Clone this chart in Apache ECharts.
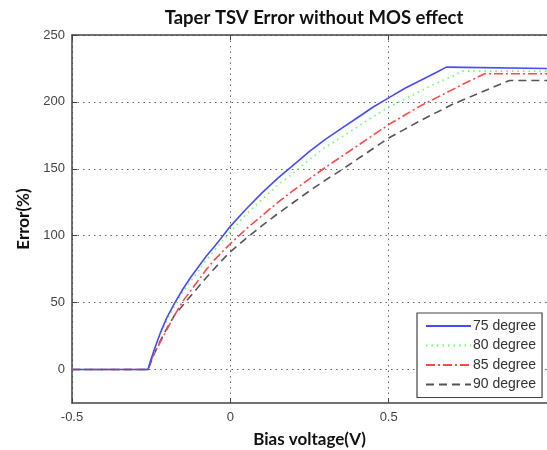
<!DOCTYPE html>
<html>
<head>
<meta charset="utf-8">
<style>
  html, body { margin: 0; padding: 0; background: #fff; }
  #chart { width: 547px; height: 450px; }
</style>
<script src="https://cdn.jsdelivr.net/npm/echarts@6.0.0/dist/echarts.min.js"></script>
</head>
<body>
<div id="chart"></div>
<script>
// Taper TSV error versus bias voltage, one curve per taper angle
var seriesNames = ['75 degree', '80 degree', '85 degree', '90 degree'];

// bias voltage samples shared by the rising part of every curve
var xRise = [-0.5, -0.26, -0.25, -0.24, -0.22, -0.2, -0.175, -0.15, -0.125, -0.1, -0.075, -0.05, -0.025,
             0, 0.05, 0.1, 0.15, 0.2, 0.25, 0.3, 0.35, 0.4, 0.45, 0.5, 0.55, 0.6, 0.65];

var x75 = xRise.concat([0.682, 1.0]);
var y75 = [0, 0, 8, 15, 28, 39, 50, 60, 69, 77, 85, 92, 99.5,
           107, 120, 132, 143, 153, 163, 172, 180, 188, 196, 203, 210, 216, 222,
           226, 225];

var x80 = xRise.concat([0.7, 0.733, 1.0]);
var y80 = [0, 0, 8, 14, 27, 37, 48, 58, 66, 74, 82, 89, 96,
           103, 116, 127, 138, 147, 157, 166, 173.5, 181, 189, 196, 202, 208, 214,
           219, 223, 223];

var x85 = xRise.concat([0.7, 0.75, 0.803, 1.0]);
var y85 = [0, 0, 7, 12, 21, 30, 41, 51, 59, 67, 75, 82, 88,
           94, 105, 115, 125, 134, 142.5, 151, 159, 167, 175, 183, 190, 197, 203,
           209, 215, 221, 221];

var x90 = xRise.concat([0.7, 0.75, 0.8, 0.85, 0.882, 1.0]);
var y90 = [0, 0, 6, 12, 22, 31, 41, 48, 55, 62, 69, 75.5, 82,
           88, 98, 107.5, 116.5, 125, 133.5, 141.5, 149, 157, 165, 173, 179.5, 186, 192,
           198, 203, 208, 213, 216, 216];

var yTicks = [0, 50, 100, 150, 200, 250];

function pairs(xs, ys) {
  return xs.map(function (x, i) { return [x, ys[i]]; });
}

var styles = [
  { color: '#4a4aff', type: 'solid' },
  { color: '#66ff66', type: [1.5, 4] },
  { color: '#ff4a4a', type: [9, 3, 2, 3] },
  { color: '#555555', type: [8, 5] }
];
var dataSets = [pairs(x75, y75), pairs(x80, y80), pairs(x85, y85), pairs(x90, y90)];

var chart = echarts.init(document.getElementById('chart'));

var tickFont = { fontFamily: 'Liberation Sans', fontSize: 13, color: '#444' };
var nameFont = { fontFamily: 'Lato', fontWeight: 'bold', fontSize: 17, color: '#111' };

chart.setOption({
  animation: false,
  backgroundColor: '#fff',
  title: {
    text: 'Taper TSV Error without MOS effect',
    left: 309,
    top: 4,
    textAlign: 'center',
    textStyle: { fontFamily: 'Lato', fontWeight: 'bold', fontSize: 18.5, color: '#111' }
  },
  legend: {
    orient: 'vertical',
    left: 417,
    top: 313,
    padding: [6, 6, 6, 8],
    itemWidth: 45,
    itemHeight: 14,
    itemGap: 5.5,
    backgroundColor: '#fff',
    borderColor: '#444',
    borderWidth: 1.2,
    borderRadius: 0,
    itemStyle: { opacity: 0 },
    textStyle: { fontFamily: 'Liberation Sans', fontSize: 14, color: '#333', padding: [0, 0, 0, -3] },
    data: seriesNames
  },
  grid: { left: 72, top: 35, right: 0, bottom: 47, containLabel: false, outerBoundsMode: 'none' },
  xAxis: [{
    type: 'value',
    min: -0.5,
    max: 1,
    interval: 0.5,
    name: 'Bias voltage(V)',
    nameLocation: 'middle',
    nameGap: 28,
    nameTextStyle: nameFont,
    axisLine: { show: true, onZero: false, lineStyle: { color: '#444', width: 1.5 } },
    axisTick: { show: true, inside: true, length: 5, lineStyle: { color: '#444' } },
    axisLabel: {
      margin: 8,
      showMaxLabel: false,
      fontFamily: tickFont.fontFamily, fontSize: tickFont.fontSize, color: tickFont.color,
      formatter: function (v) { return String(v); }
    },
    splitLine: { show: true, lineStyle: { color: '#666', type: [1.5, 4], width: 1 } }
  }, {
    type: 'value',
    position: 'top',
    min: -0.5,
    max: 1,
    interval: 0.5,
    axisLine: { show: true, onZero: false, lineStyle: { color: '#444', width: 1.5 } },
    axisTick: { show: true, inside: true, length: 5, lineStyle: { color: '#444' } },
    axisLabel: { show: false },
    splitLine: { show: false }
  }],
  yAxis: {
    type: 'value',
    min: -25,
    max: 250,
    name: 'Error(%)',
    nameLocation: 'middle',
    nameGap: 40,
    nameTextStyle: nameFont,
    axisLine: { show: true, onZero: false, lineStyle: { color: '#444', width: 1.5 } },
    axisTick: { show: true, inside: true, length: 5, customValues: yTicks, lineStyle: { color: '#444' } },
    axisLabel: {
      margin: 7,
      customValues: yTicks,
      fontFamily: tickFont.fontFamily, fontSize: tickFont.fontSize, color: tickFont.color
    },
    splitLine: { show: true, lineStyle: { color: '#666', type: [1.5, 4], width: 1 } }
  },
  series: seriesNames.map(function (name, i) {
    return {
      name: name,
      type: 'line',
      data: dataSets[i],
      symbol: 'none',
      z: 10 - i,
      lineStyle: { color: styles[i].color, type: styles[i].type, width: 1.6 },
      itemStyle: { color: styles[i].color }
    };
  })
});
</script>
</body>
</html>
